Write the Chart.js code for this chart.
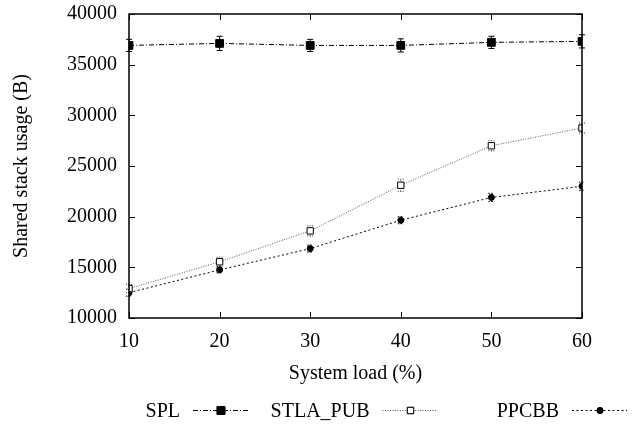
<!DOCTYPE html>
<html>
<head>
<meta charset="utf-8">
<script src="https://cdn.jsdelivr.net/npm/chart.js@4/dist/chart.umd.min.js"></script>
<style>
    html, body { margin: 0; padding: 0; background: #fff; }
    #wrap { width: 637px; height: 425px; }
</style>
</head>
<body>
<div id="wrap"><canvas id="chart" width="637" height="425"></canvas></div>
<script>
// system load (%)
const loads = [10, 20, 30, 40, 50, 60]

// shared stack usage (B)
const splValues = [36900, 37100, 36900, 36900, 37200, 37300]
const splErrors = [600, 700, 600, 650, 600, 650]
const stlaValues = [12900, 15550, 18600, 23100, 27000, 28750]
const stlaErrors = [400, 450, 500, 600, 500, 500]
const ppcbbValues = [12500, 14750, 16850, 19650, 21900, 23000]
const ppcbbErrors = [350, 300, 350, 350, 400, 400]

const seriesNames = ['SPL', 'STLA_PUB', 'PPCBB']
const xTicks = [10, 20, 30, 40, 50, 60]
const yTicks = [10000, 15000, 20000, 25000, 30000, 35000, 40000]

const FONT = 'Liberation Serif, Times New Roman, serif'

function toPoints(values) {
    return loads.map((x, i) => ({ x: x, y: values[i] }))
}

// error bars drawn under the markers
const errorBars = {
    id: 'errorBars',
    beforeDatasetsDraw(chart) {
        const ctx = chart.ctx
        const xs = chart.scales.x
        const ys = chart.scales.y
        chart.data.datasets.forEach((ds, di) => {
            ctx.save()
            ctx.strokeStyle = ds.errColor
            ctx.lineWidth = 1
            ctx.setLineDash(ds.errDash)
            ds.data.forEach((p, i) => {
                const e = ds.errors[i]
                const px = xs.getPixelForValue(p.x)
                const y1 = ys.getPixelForValue(p.y - e)
                const y2 = ys.getPixelForValue(p.y + e)
                ctx.beginPath()
                ctx.moveTo(px, y1)
                ctx.lineTo(px, y2)
                ctx.moveTo(px - 3, y1)
                ctx.lineTo(px + 3, y1)
                ctx.moveTo(px - 3, y2)
                ctx.lineTo(px + 3, y2)
                ctx.stroke()
            })
            ctx.restore()
        })
    }
}

// gnuplot style frame with inward ticks on all four sides
const frame = {
    id: 'frame',
    afterDraw(chart) {
        const ctx = chart.ctx
        const a = chart.chartArea
        const xs = chart.scales.x
        const ys = chart.scales.y
        ctx.save()
        ctx.strokeStyle = '#000'
        ctx.lineWidth = 1.5
        ctx.strokeRect(a.left, a.top, a.right - a.left, a.bottom - a.top)
        ctx.lineWidth = 1
        ctx.beginPath()
        xTicks.forEach(t => {
            const px = Math.round(xs.getPixelForValue(t)) + 0.5
            ctx.moveTo(px, a.bottom); ctx.lineTo(px, a.bottom - 6)
            ctx.moveTo(px, a.top); ctx.lineTo(px, a.top + 6)
        })
        yTicks.forEach(t => {
            const py = Math.round(ys.getPixelForValue(t)) + 0.5
            ctx.moveTo(a.left, py); ctx.lineTo(a.left + 6, py)
            ctx.moveTo(a.right, py); ctx.lineTo(a.right - 6, py)
        })
        ctx.stroke()
        ctx.restore()
    }
}

// key below the plot: text right-aligned, then a line sample with marker
const keyBelow = {
    id: 'keyBelow',
    afterDraw(chart) {
        const ctx = chart.ctx
        const a = chart.chartArea
        const mid = (a.left + a.right) / 2
        const y = 410.5
        ctx.save()
        ctx.font = '20px ' + FONT
        ctx.fillStyle = '#000'
        ctx.textAlign = 'right'
        ctx.textBaseline = 'middle'
        chart.data.datasets.forEach((ds, i) => {
            const sx = mid + 27 + (i - 1) * 189.5
            ctx.fillText(ds.label, sx - 13, y + 1)
            ctx.strokeStyle = ds.borderColor
            ctx.lineWidth = ds.borderWidth
            ctx.setLineDash(ds.borderDash)
            ctx.beginPath()
            ctx.moveTo(sx, y)
            ctx.lineTo(sx + 55, y)
            ctx.stroke()
            ctx.setLineDash([])
            Chart.helpers.drawPoint(ctx, {
                pointStyle: ds.pointStyle,
                radius: ds.pointRadius,
                borderWidth: ds.pointBorderWidth,
                rotation: 0
            }, sx + 28, y)
            ctx.fillStyle = ds.pointBackgroundColor
            ctx.strokeStyle = ds.pointBorderColor
            ctx.lineWidth = ds.pointBorderWidth
            ctx.fill()
            ctx.stroke()
            ctx.fillStyle = '#000'
        })
        ctx.restore()
    }
}

const ctx = document.getElementById('chart').getContext('2d')
window.myChart = new Chart(ctx, {
    type: 'line',
    data: {
        datasets: [
            {
                label: seriesNames[0],
                data: toPoints(splValues),
                errors: splErrors,
                errColor: '#000',
                errDash: [],
                borderColor: '#000',
                borderWidth: 1,
                borderDash: [5, 2, 1, 2],
                pointStyle: 'rect',
                pointRadius: 5.5,
                pointBackgroundColor: '#000',
                pointBorderColor: '#000',
                pointBorderWidth: 1
            },
            {
                label: seriesNames[1],
                data: toPoints(stlaValues),
                errors: stlaErrors,
                errColor: '#333',
                errDash: [1, 1.5],
                borderColor: '#555',
                borderWidth: 1,
                borderDash: [1, 1.5],
                pointStyle: 'rect',
                pointRadius: 4.5,
                pointBackgroundColor: '#fff',
                pointBorderColor: '#000',
                pointBorderWidth: 1
            },
            {
                label: seriesNames[2],
                data: toPoints(ppcbbValues),
                errors: ppcbbErrors,
                errColor: '#000',
                errDash: [1.5, 1.5],
                borderColor: '#000',
                borderWidth: 1,
                borderDash: [2, 2.5],
                pointStyle: 'circle',
                pointRadius: 3,
                pointBackgroundColor: '#000',
                pointBorderColor: '#000',
                pointBorderWidth: 1
            }
        ]
    },
    options: {
        responsive: false,
        animation: false,
        layout: { padding: { left: 10, top: 14, right: 55, bottom: 39 } },
        plugins: {
            legend: { display: false },
            tooltip: { enabled: false }
        },
        scales: {
            x: {
                type: 'linear',
                min: 10,
                max: 60,
                grid: { display: false, drawTicks: false },
                border: { display: false },
                afterBuildTicks: scale => { scale.ticks = xTicks.map(v => ({ value: v })) },
                ticks: { padding: 12, color: '#000', font: { family: FONT, size: 20 }, callback: v => String(v) },
                title: {
                    display: true,
                    text: 'System load (%)',
                    color: '#000',
                    padding: 0,
                    font: { family: FONT, size: 20 }
                },
                afterFit: scale => {
                    scale.height = 68
                    scale.paddingLeft = 0
                    scale.paddingRight = 0
                }
            },
            y: {
                type: 'linear',
                min: 10000,
                max: 40000,
                grid: { display: false, drawTicks: false },
                border: { display: false },
                afterBuildTicks: scale => { scale.ticks = yTicks.map(v => ({ value: v })) },
                ticks: { padding: 12, color: '#000', font: { family: FONT, size: 20 }, callback: v => String(v) },
                title: {
                    display: true,
                    text: 'Shared stack usage (B)',
                    color: '#000',
                    padding: 0,
                    font: { family: FONT, size: 20 }
                },
                afterFit: scale => {
                    scale.width = 119
                    scale.paddingTop = 0
                    scale.paddingBottom = 0
                }
            }
        }
    },
    plugins: [errorBars, frame, keyBelow]
})
</script>
</body>
</html>
